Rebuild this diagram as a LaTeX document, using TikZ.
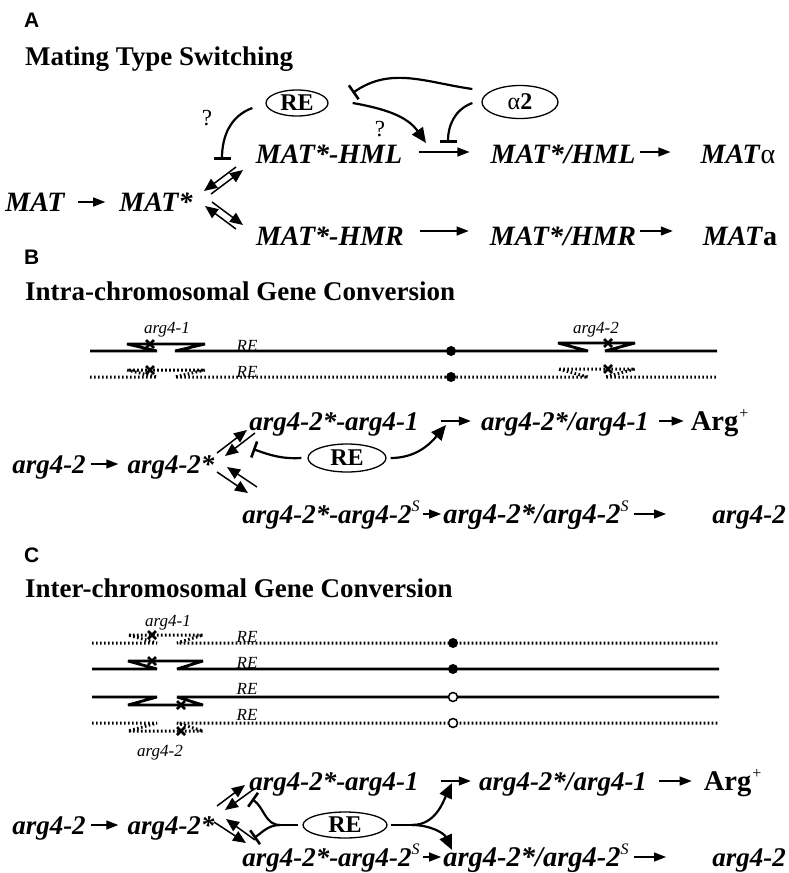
\documentclass[tikz,border=0pt]{standalone}
\usepackage{fontspec}
\setmainfont{Liberation Serif}
\newfontfamily\tagfont{Liberation Sans}
\usetikzlibrary{arrows.meta,shapes.geometric}
\newcommand{\sups}[1]{\raisebox{0.42em}{\fontsize{16}{16}\selectfont\mdseries #1}}

\tikzset{
  tag/.style={font=\tagfont\bfseries\fontsize{21}{21}\selectfont, inner sep=0pt, anchor=west, text height=15pt, text depth=0pt},
  head/.style={font=\bfseries\fontsize{27}{27}\selectfont, inner sep=0pt, anchor=west, text height=18pt, text depth=0pt},
  gene/.style={font=\bfseries\itshape\fontsize{28}{28}\selectfont, inner sep=0pt, text height=18pt, text depth=0pt},
  arg/.style={gene, font=\bfseries\itshape\fontsize{27}{27}\selectfont},
  argw/.style={gene, font=\bfseries\itshape\fontsize{28.5}{28.5}\selectfont},
  oval/.style={draw, ellipse, line width=1.3pt, inner sep=0pt, font=\bfseries\fontsize{24}{24}\selectfont},
  qmark/.style={font=\fontsize{23}{23}\selectfont, inner sep=0pt},
  site/.style={font=\itshape\fontsize{17}{17}\selectfont, inner sep=0pt, text height=12pt, text depth=0pt},
  rxn/.style={-{Triangle[length=12pt,width=9pt]}, line width=1.2pt},
  pair/.style={-{Triangle[length=13pt,width=11pt]}, line width=1.5pt},
  act/.style={-{Triangle[length=15pt,width=13pt]}, line width=2.2pt},
  inh/.style={-{Bar[width=17pt,line width=2.6pt]}, line width=2.2pt},
  chr/.style={line width=2.8pt, miter limit=4},
  dchr/.style={line width=3pt, dash pattern=on 1.6pt off 2.4pt, miter limit=4},
  mut/.style={line width=2.6pt},
}

\begin{document}
\begin{tikzpicture}[x=1pt, y=1pt]
\useasboundingbox (0,0) rectangle (789,-873);

% A
\node[tag] (tagA) at (24,-20) {A};
\node[head] (headA) at (25,-56) {Mating Type Switching};
\node[gene] (mat) at (35,-202) {MAT};
\node[gene] (mats) at (156,-202) {MAT*};
\node[gene] (hml) at (329,-154) {MAT*-HML};
\node[gene] (hmr) at (330,-236) {MAT*-HMR};
\node[gene] (hmlx) at (563,-154) {MAT*/HML};
\node[gene] (hmrx) at (563,-236) {MAT*/HMR};
\node[gene] (matal) at (738,-154) {MAT\textup{\mdseries α}};
\node[gene] (mata) at (740,-236) {MAT\textup{a}};
\node[oval, minimum width=62pt, minimum height=26pt] (reA) at (297,-103) {RE};
\node[oval, minimum width=76pt, minimum height=33pt] (a2) at (520,-102) {{\mdseries α}2};
\node[qmark] (q1) at (207,-118) {?};
\node[qmark] (q2) at (380,-129) {?};

\coordinate (tA) at (222,-160);
\coordinate (hmlon) at (426,-143);
\coordinate (hmloff) at (448,-143);
\coordinate (pA1) at (236,-167);
\coordinate (pA2) at (204,-191);
\coordinate (pA3) at (211,-194);
\coordinate (pA4) at (243,-170);
\coordinate (pA5) at (236,-229);
\coordinate (pA6) at (205,-206);
\coordinate (pA7) at (212,-202);
\coordinate (pA8) at (243,-225);

\draw[rxn, shorten <=13pt, shorten >=14pt] (mat.east) -- (mats.west);
\draw[rxn, shorten <=17pt, shorten >=21pt] ([yshift=2pt]hml.east) -- ([yshift=2pt]hmlx.west);
\draw[rxn, shorten <=16pt, shorten >=21pt] ([yshift=5pt]hmr.east) -- ([yshift=5pt]hmrx.west);
\draw[rxn, shorten <=4pt, shorten >=30pt] ([yshift=2pt]hmlx.east) -- ([yshift=2pt]matal.west);
\draw[rxn, shorten <=4pt, shorten >=30pt] ([yshift=5pt]hmrx.east) -- ([yshift=5pt]mata.west);
\draw[pair] (pA1) -- (pA2);
\draw[pair] (pA3) -- (pA4);
\draw[pair] (pA5) -- (pA6);
\draw[pair] (pA7) -- (pA8);

\draw[inh] ([xshift=-13pt, yshift=-5pt]reA.west) to[out=200, in=90] (tA);
\draw[inh] ([shift={(-9,13)}]a2.west) to[out=172, in=35] ([shift={(24,10)}]reA.east);
\draw[act] ([xshift=24pt]reA.east) to[out=-10, in=125] (hmlon);
\draw[inh] ([shift={(-9,-1)}]a2.west) to[out=200, in=90] (hmloff);

% B
\node[tag] (tagB) at (24,-257) {B};
\node[head] (headB) at (25,-291) {Intra-chromosomal Gene Conversion};

\draw[chr] (90,-351) -- (157,-351) -- (127,-344) -- (205,-344) -- (175,-351) -- (588,-351) -- (558,-343) -- (635,-343) -- (605,-351) -- (717,-351);
\draw[dchr] (90,-377) -- (157,-377) -- (127,-370) -- (205,-370) -- (175,-377) -- (588,-377) -- (558,-369) -- (635,-369) -- (605,-377) -- (717,-377);
\draw[mut] (150,-344) +(-4,-4) -- +(4,4) +(-4,4) -- +(4,-4);
\draw[mut] (150,-370) +(-4,-4) -- +(4,4) +(-4,4) -- +(4,-4);
\draw[mut] (608,-343) +(-4,-4) -- +(4,4) +(-4,4) -- +(4,-4);
\draw[mut] (608,-369) +(-4,-4) -- +(4,4) +(-4,4) -- +(4,-4);
\fill (451,-351) circle (5pt);
\fill (451,-377) circle (5pt);
\node[site] (s1B) at (167,-327) {arg4-1};
\node[site] (s2B) at (596,-327) {arg4-2};
\node[site] (reB1) at (247,-345) {RE};
\node[site] (reB2) at (247,-371) {RE};

\node[arg] (b0) at (49,-464) {arg4-2};
\node[arg] (b1) at (171,-464) {arg4-2*};
\node[arg] (bu) at (334,-421) {arg4-2*-arg4-1};
\node[arg] (bl) at (331,-514) {arg4-2*-arg4-2\sups{S}};
\node[arg] (bux) at (565,-421) {arg4-2*/arg4-1};
\node[argw] (blx) at (536,-514) {arg4-2*/arg4-2\sups{S}};
\node[argw] (bpos) at (720,-421) {\textup{Arg}\sups{+}};
\node[arg] (bend) at (749,-514) {arg4-2};
\node[oval, minimum width=78pt, minimum height=28pt] (reB) at (347,-458) {RE};

\coordinate (tB) at (253,-449);
\coordinate (bon) at (446,-425);
\coordinate (pB1) at (217,-453);
\coordinate (pB2) at (247,-430);
\coordinate (pB3) at (255,-433);
\coordinate (pB4) at (225,-456);
\coordinate (pB5) at (257,-487);
\coordinate (pB6) at (227,-467);
\coordinate (pB7) at (217,-472);
\coordinate (pB8) at (248,-493);

\draw[rxn, shorten <=5pt, shorten >=9pt] (b0.east) -- (b1.west);
\draw[rxn, shorten <=22pt, shorten >=10pt] (bu.east) -- (bux.west);
\draw[rxn, shorten <=3pt, shorten >=2pt] (bl.east) -- (blx.west);
\draw[rxn, shorten <=10pt, shorten >=7pt] (bux.east) -- (bpos.west);
\draw[rxn, shorten <=5pt, shorten >=46pt] (blx.east) -- (bend.west);
\draw[pair] (pB1) -- (pB2);
\draw[pair] (pB3) -- (pB4);
\draw[pair] (pB5) -- (pB6);
\draw[pair] (pB7) -- (pB8);
\draw[inh] ([xshift=-6pt]reB.west) to[out=183, in=-20] (tB);
\draw[act] ([xshift=4pt]reB.east) to[out=0, in=-130] (bon);

% C
\node[tag] (tagC) at (24,-555) {C};
\node[head] (headC) at (25,-588) {Inter-chromosomal Gene Conversion};

\draw[dchr] (92,-643) -- (157,-643) -- (128,-635) -- (203,-635) -- (177,-643) -- (719,-643);
\draw[chr] (92,-669) -- (157,-669) -- (128,-661) -- (203,-661) -- (177,-669) -- (719,-669);
\draw[chr] (92,-697) -- (157,-697) -- (128,-705) -- (203,-705) -- (177,-697) -- (719,-697);
\draw[dchr] (92,-723) -- (157,-723) -- (128,-731) -- (203,-731) -- (177,-723) -- (719,-723);
\draw[mut] (152,-635) +(-4,-4) -- +(4,4) +(-4,4) -- +(4,-4);
\draw[mut] (152,-661) +(-4,-4) -- +(4,4) +(-4,4) -- +(4,-4);
\draw[mut] (181,-705) +(-4,-4) -- +(4,4) +(-4,4) -- +(4,-4);
\draw[mut] (181,-731) +(-4,-4) -- +(4,4) +(-4,4) -- +(4,-4);
\fill (453,-643) circle (5pt);
\fill (453,-669) circle (5pt);
\draw[line width=1.5pt, fill=white] (453,-697) circle (4.5pt);
\draw[line width=1.5pt, fill=white] (453,-723) circle (4.5pt);
\node[site] (s1C) at (168,-620) {arg4-1};
\node[site] (s2C) at (160,-750) {arg4-2};
\node[site] (reC1) at (247,-636) {RE};
\node[site] (reC2) at (247,-662) {RE};
\node[site] (reC3) at (247,-688) {RE};
\node[site] (reC4) at (247,-714) {RE};

\node[arg] (c0) at (49,-825) {arg4-2};
\node[arg] (c1) at (171,-825) {arg4-2*};
\node[arg] (cu) at (334,-781) {arg4-2*-arg4-1};
\node[arg] (cl) at (331,-857) {arg4-2*-arg4-2\sups{S}};
\node[arg] (cux) at (563,-781) {arg4-2*/arg4-1};
\node[argw] (clx) at (536,-857) {arg4-2*/arg4-2\sups{S}};
\node[argw] (cpos) at (733,-781) {\textup{Arg}\sups{+}};
\node[arg] (cend) at (749,-857) {arg4-2};
\node[oval, minimum width=84pt, minimum height=26pt] (reC) at (345,-825) {RE};

\coordinate (fC) at (280,-825);
\coordinate (tC1) at (252,-799);
\coordinate (tC2) at (254,-838);
\coordinate (gC) at (412,-825);
\coordinate (cuon) at (452,-783);
\coordinate (clon) at (452,-850);
\coordinate (pC1) at (217,-806);
\coordinate (pC2) at (245,-785);
\coordinate (pC3) at (254,-789);
\coordinate (pC4) at (225,-810);
\coordinate (pC5) at (255,-840);
\coordinate (pC6) at (226,-819);
\coordinate (pC7) at (214,-822);
\coordinate (pC8) at (246,-843);

\draw[rxn, shorten <=5pt, shorten >=9pt] (c0.east) -- (c1.west);
\draw[rxn, shorten <=22pt, shorten >=8pt] (cu.east) -- (cux.west);
\draw[rxn, shorten <=3pt, shorten >=2pt] (cl.east) -- (clx.west);
\draw[rxn, shorten <=12pt, shorten >=12pt] (cux.east) -- (cpos.west);
\draw[rxn, shorten <=5pt, shorten >=46pt] (clx.east) -- (cend.west);
\draw[pair] (pC1) -- (pC2);
\draw[pair] (pC3) -- (pC4);
\draw[pair] (pC5) -- (pC6);
\draw[pair] (pC7) -- (pC8);
\draw[line width=2.2pt] ([xshift=-4pt]reC.west) -- (fC);
\draw[inh] (fC) to[out=180, in=-35] (tC1);
\draw[inh] (fC) to[out=180, in=35] (tC2);
\draw[line width=2.2pt] ([xshift=3pt]reC.east) -- (gC);
\draw[act] (gC) to[out=0, in=-115] (cuon);
\draw[act] (gC) to[out=0, in=115] (clon);

\end{tikzpicture}
\end{document}
